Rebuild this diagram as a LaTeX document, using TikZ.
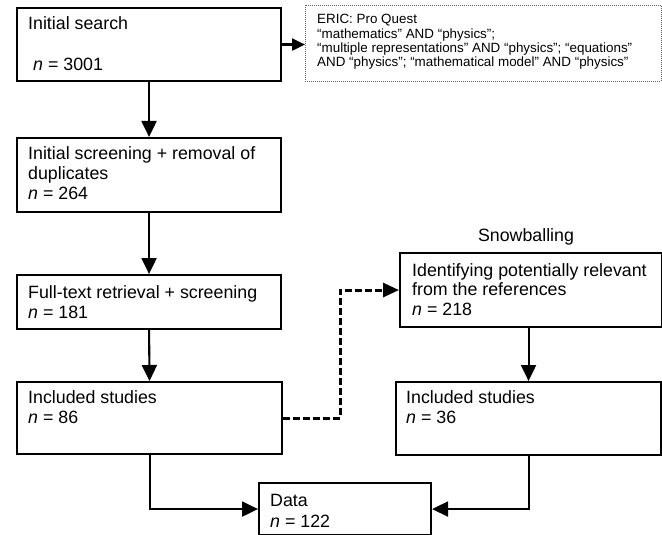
\documentclass[tikz,border=0pt]{standalone}
\usepackage{fontspec}
\setmainfont{Liberation Sans}
\usetikzlibrary{arrows.meta}
\begin{document}
\begin{tikzpicture}[x=1pt,y=-1pt,
  boxed/.style={draw, line width=2.1pt, rectangle, inner sep=0pt, anchor=north west},
  query/.style={draw=black!60, line width=0.8pt, dash pattern=on 1pt off 1pt, rectangle, inner sep=0pt, anchor=north west},
  txt/.style={anchor=base west, inner sep=0pt, font=\fontsize{17.8}{20}\selectfont},
  small/.style={anchor=base west, inner sep=0pt, font=\fontsize{13.4}{14.3}\selectfont},
  flow/.style={line width=2.1pt, -{Triangle[length=16pt,width=15pt]}},
  flowsmall/.style={line width=2.1pt, -{Triangle[length=13pt,width=12pt]}},
  flowdash/.style={line width=3pt, dash pattern=on 7pt off 3pt, -{Triangle[length=16pt,width=14pt]}},
]
\useasboundingbox (0,0) rectangle (662,535);

% boxes
\node[boxed, minimum width=264pt, minimum height=73pt] (b1) at (16,7) {};
\node[query, minimum width=356pt, minimum height=76pt] (eric) at (305,5) {};
\node[boxed, minimum width=264pt, minimum height=74pt] (b2) at (16,137) {};
\node[boxed, minimum width=264pt, minimum height=54pt] (b3) at (16,274) {};
\node[boxed, minimum width=265pt, minimum height=72pt] (b4) at (16,381) {};
\node[boxed, minimum width=262pt, minimum height=74pt] (b6) at (399,252) {};
\node[boxed, minimum width=265pt, minimum height=73pt] (b5) at (395,381) {};
\node[boxed, minimum width=172pt, minimum height=52pt] (data) at (258,482) {};

% texts
\node[txt] (t1a) at (28,30) {Initial search};
\node[txt] (t1b) at (33,71) {\textit{n} = 3001};

\node[small] (qa) at (317,24) {ERIC: Pro Quest};
\node[small] (qb) at (317,38.3) {“mathematics” AND “physics”;};
\node[small] (qc) at (317,52.6) {“multiple representations” AND “physics”; “equations”};
\node[small] (qd) at (317,67) {AND “physics”; “mathematical model” AND “physics”};

\node[txt] (t2a) at (28,160) {Initial screening + removal of};
\node[txt] (t2b) at (28,179.5) {duplicates};
\node[txt] (t2c) at (28,199.5) {\textit{n} = 264};

\node[txt] (t3a) at (28,298) {Full-text retrieval + screening};
\node[txt] (t3b) at (28,318) {\textit{n} = 181};

\node[txt] (t4a) at (28,403) {Included studies};
\node[txt] (t4b) at (28,423) {\textit{n} = 86};

\node[txt, anchor=base] (snow) at (526,241) {Snowballing};

\node[txt] (t6a) at (412,276) {Identifying potentially relevant};
\node[txt] (t6b) at (412,295.5) {from the references};
\node[txt] (t6c) at (412,315.5) {\textit{n} = 218};

\node[txt] (t5a) at (406,403) {Included studies};
\node[txt] (t5b) at (406,423) {\textit{n} = 36};

\node[txt] (tda) at (270,506) {Data};
\node[txt] (tdb) at (270,527) {\textit{n} = 122};

% connectors
\draw[flowsmall] (b1.east) -- (b1.east -| eric.west);
\draw[flow] (b1.south) -- (b2.north);
\draw[flow] (b2.south) -- (b3.north);
\draw[flow] (b3.south) -- (b4.north);
\draw[flowdash] (b4.east) -- ++(57,0) |- (b6.west);
\draw[flow] (b6.south -| b5.north) -- (b5.north);
\draw[flow] (b4.south) |- (data.west);
\draw[flow] (b5.south) |- (data.east);
\end{tikzpicture}
\end{document}
